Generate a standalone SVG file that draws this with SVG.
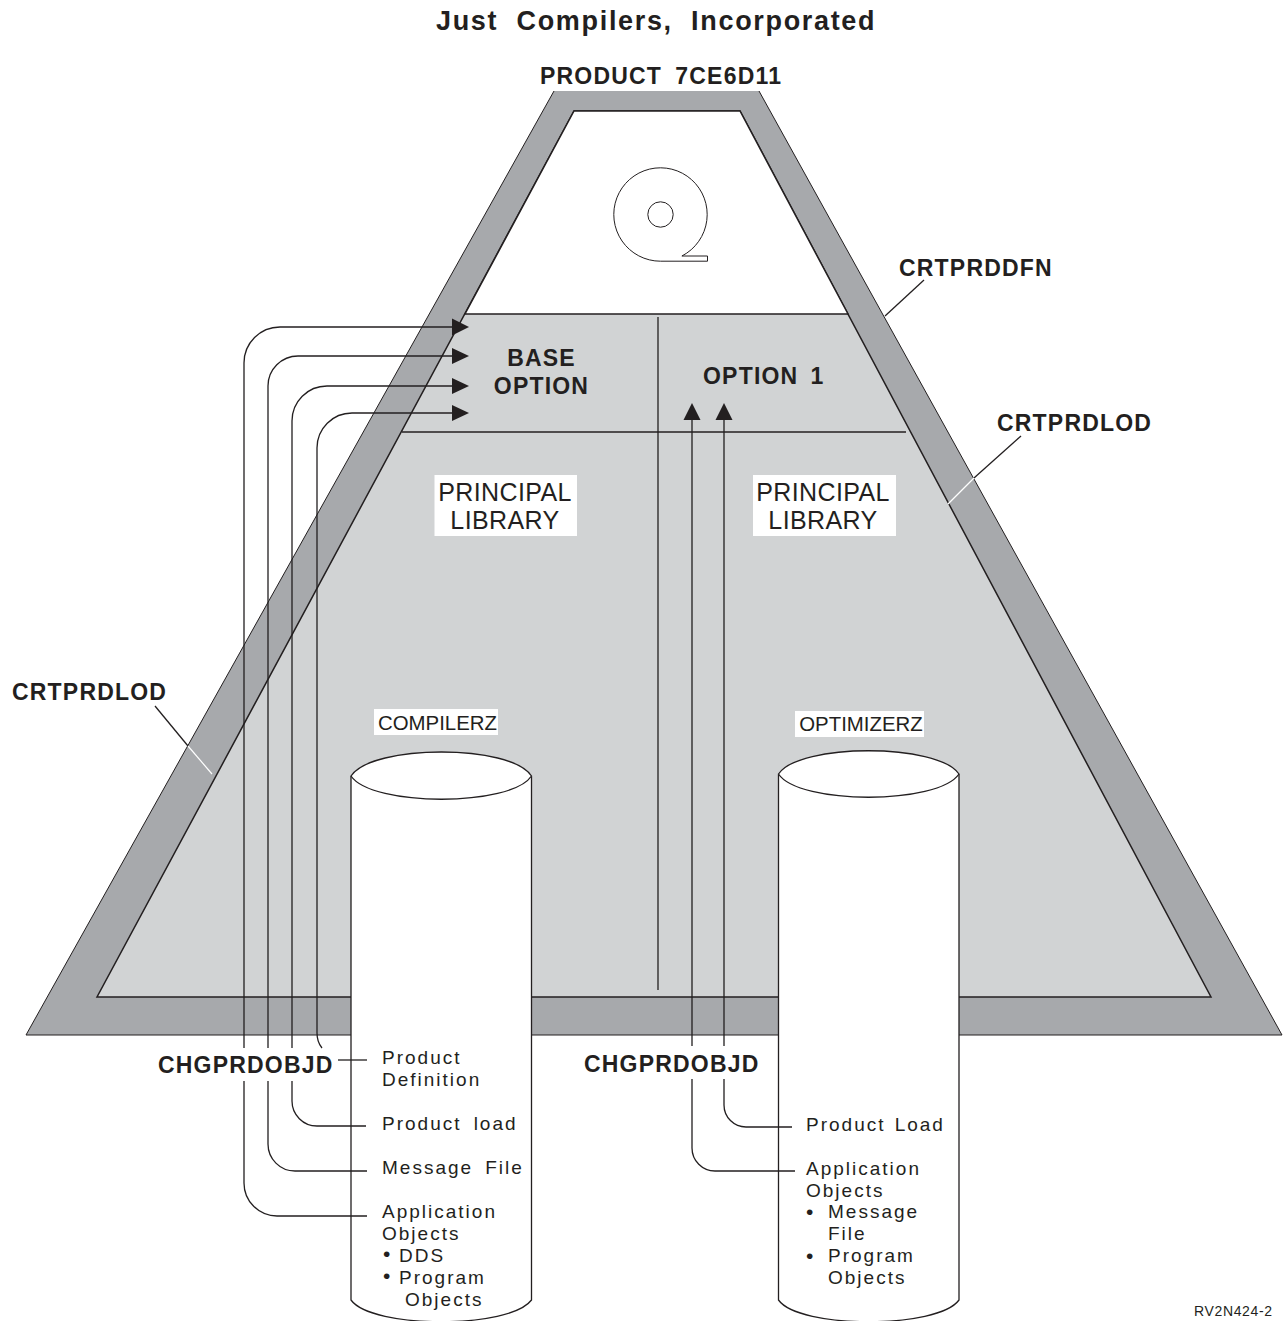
<svg xmlns="http://www.w3.org/2000/svg" width="1284" height="1321" viewBox="0 0 1284 1321">
<style>
text{font-family:"Liberation Sans",Arial,sans-serif;fill:#231f20}
.h{font-weight:bold;font-size:23px;letter-spacing:1.2px}
.t{font-size:19px;letter-spacing:2px}
.b{font-size:21px}
.p{font-size:25px;letter-spacing:.4px}
.c{font-size:20.4px}
.ln{fill:none;stroke:#231f20;stroke-width:1.3}
.wl{stroke:#fff;stroke-width:1.2}
.thin{fill:none;stroke:#231f20;stroke-width:1}
.cyl{fill:#fff;stroke:#231f20;stroke-width:1.3}
.ah{fill:#231f20;stroke:none}
</style>
<rect width="1284" height="1321" fill="#fff"/>
<g id="pyramid">
<polygon points="554,91 759,91 1282,1035 26,1035" fill="#a7a9ac"/>
<path d="M554,91 L26,1035 H1282 L759,91" fill="none" stroke="#231f20" stroke-width="1"/>
<polygon points="574,111 740,111 1211,997 97,997" fill="#d1d3d4" stroke="#231f20" stroke-width="1.5"/>
<polygon points="574,111 740,111 848,314 465,314" fill="#fff" stroke="#231f20" stroke-width="1.5"/>
<line class="ln" x1="402" y1="432" x2="906" y2="432"/>
<line class="ln" x1="658" y1="317" x2="658" y2="990"/>
</g>
<g id="tape">
<path class="thin" d="M681.9,256 A46.7,46.7 0 1 0 660.5,261.2 L707.5,261.2 L707.5,256 Z"/>
<circle class="thin" cx="660.5" cy="214.5" r="12.7"/>
</g>
<g id="cylinder-compilerz">
<path class="cyl" d="M351,776 C372,744 511,744 531.5,776 L531.5,1300 C510,1329 372,1329 351,1300 Z"/>
<path class="cyl" d="M351,776 C372,807 511,807 531.5,776" fill="none"/>
</g>
<g id="cylinder-optimizerz">
<path class="cyl" d="M778.5,774 C799,743 938,743 959,774 L959,1300 C938,1329 799,1329 778.5,1300 Z"/>
<path class="cyl" d="M778.5,774 C799,805 938,805 959,774" fill="none"/>
</g>
<g id="connectors">
<path class="ln" d="M455,327 H280 A36,36 0 0 0 244,363 V1048 M244,1081 V1183 A33,33 0 0 0 277,1216 H367"/>
<path class="ln" d="M455,356 H298 A30,30 0 0 0 268,386 V1048 M268,1081 V1144 A27,27 0 0 0 295,1171 H367"/>
<path class="ln" d="M455,386 H327 A35,35 0 0 0 292,421 V1048 M292,1081 V1101 A25,25 0 0 0 317,1126 H366"/>
<path class="ln" d="M455,413 H352 A35,35 0 0 0 317,448 V1033 Q317,1042 322,1048"/>
<line class="ln" x1="338" y1="1060" x2="367" y2="1060"/>
<path class="ah" d="M452,318.500 L469,327 L452,335.500 Z"/>
<path class="ah" d="M452,348 L469,356 L452,364 Z"/>
<path class="ah" d="M452,378 L469,386 L452,394 Z"/>
<path class="ah" d="M452,405 L469,413 L452,421 Z"/>
<path class="ln" d="M692,418 V1046 M692,1079 V1148 A23,23 0 0 0 715,1171 H795"/>
<path class="ln" d="M724,418 V1046 M724,1079 V1105 A22,22 0 0 0 746,1127 H792"/>
<path class="ah" d="M692,403 L700.500,420 L683.500,420 Z"/>
<path class="ah" d="M724,403 L732.500,420 L715.500,420 Z"/>
<line class="ln" x1="924" y1="280" x2="885" y2="316"/>
<line class="ln" x1="1021" y1="436" x2="974" y2="478"/>
<line class="wl" x1="974" y1="478" x2="948" y2="504"/>
<line class="ln" x1="155" y1="706" x2="188" y2="746"/>
<line class="wl" x1="188" y1="746" x2="212" y2="774"/>
</g>
<g id="labels">
<text x="436" y="30" style="font-weight:bold;font-size:27px;letter-spacing:1.67px" xml:space="preserve">Just  Compilers,  Incorporated</text>
<text x="540" y="83.500" class="h" word-spacing="-1" xml:space="preserve">PRODUCT  7CE6D11</text>
<text x="899" y="276" class="h">CRTPRDDFN</text>
<text x="997" y="431" class="h">CRTPRDLOD</text>
<text x="12" y="700" class="h">CRTPRDLOD</text>
<text x="541.500" y="366" class="h" text-anchor="middle">BASE</text>
<text x="541.500" y="394" class="h" text-anchor="middle">OPTION</text>
<text x="703" y="384" class="h" word-spacing="-1.500" xml:space="preserve">OPTION  1</text>
<rect x="434.500" y="475" width="142.500" height="61" fill="#fff"/>
<text x="505" y="501" class="p" text-anchor="middle">PRINCIPAL</text>
<text x="505" y="529" class="p" text-anchor="middle">LIBRARY</text>
<rect x="753" y="475" width="143" height="61" fill="#fff"/>
<text x="823" y="501" class="p" text-anchor="middle">PRINCIPAL</text>
<text x="823" y="529" class="p" text-anchor="middle">LIBRARY</text>
<rect x="374" y="709" width="124" height="26" fill="#fff"/>
<text x="437.500" y="729.500" class="c" text-anchor="middle">COMPILERZ</text>
<rect x="795" y="711" width="129" height="26" fill="#fff"/>
<text x="861" y="731" class="c" text-anchor="middle">OPTIMIZERZ</text>
<text x="158" y="1073" class="h">CHGPRDOBJD</text>
<text x="584" y="1072" class="h">CHGPRDOBJD</text>
<text x="382" y="1064" class="t">Product</text>
<text x="382" y="1086" class="t">Definition</text>
<text x="382" y="1130" class="t" word-spacing="-1.2" xml:space="preserve">Product  load</text>
<text x="382" y="1174" class="t" word-spacing="-1.2" xml:space="preserve">Message  File</text>
<text x="382" y="1218" class="t">Application</text>
<text x="382" y="1240" class="t">Objects</text>
<text x="383" y="1261" class="b">•</text>
<text x="399" y="1262" class="t">DDS</text>
<text x="383" y="1283" class="b">•</text>
<text x="399" y="1284" class="t">Program</text>
<text x="405" y="1306" class="t">Objects</text>
<text x="806" y="1131" class="t" word-spacing="-2.700" xml:space="preserve">Product  Load</text>
<text x="806" y="1175" class="t">Application</text>
<text x="806" y="1197" class="t">Objects</text>
<text x="806" y="1219" class="b">•</text>
<text x="828" y="1218" class="t">Message</text>
<text x="828" y="1240" class="t">File</text>
<text x="806" y="1263" class="b">•</text>
<text x="828" y="1262" class="t">Program</text>
<text x="828" y="1284" class="t">Objects</text>
<text x="1194" y="1316" style="font-size:14px" textLength="78">RV2N424-2</text>
</g>
</svg>
